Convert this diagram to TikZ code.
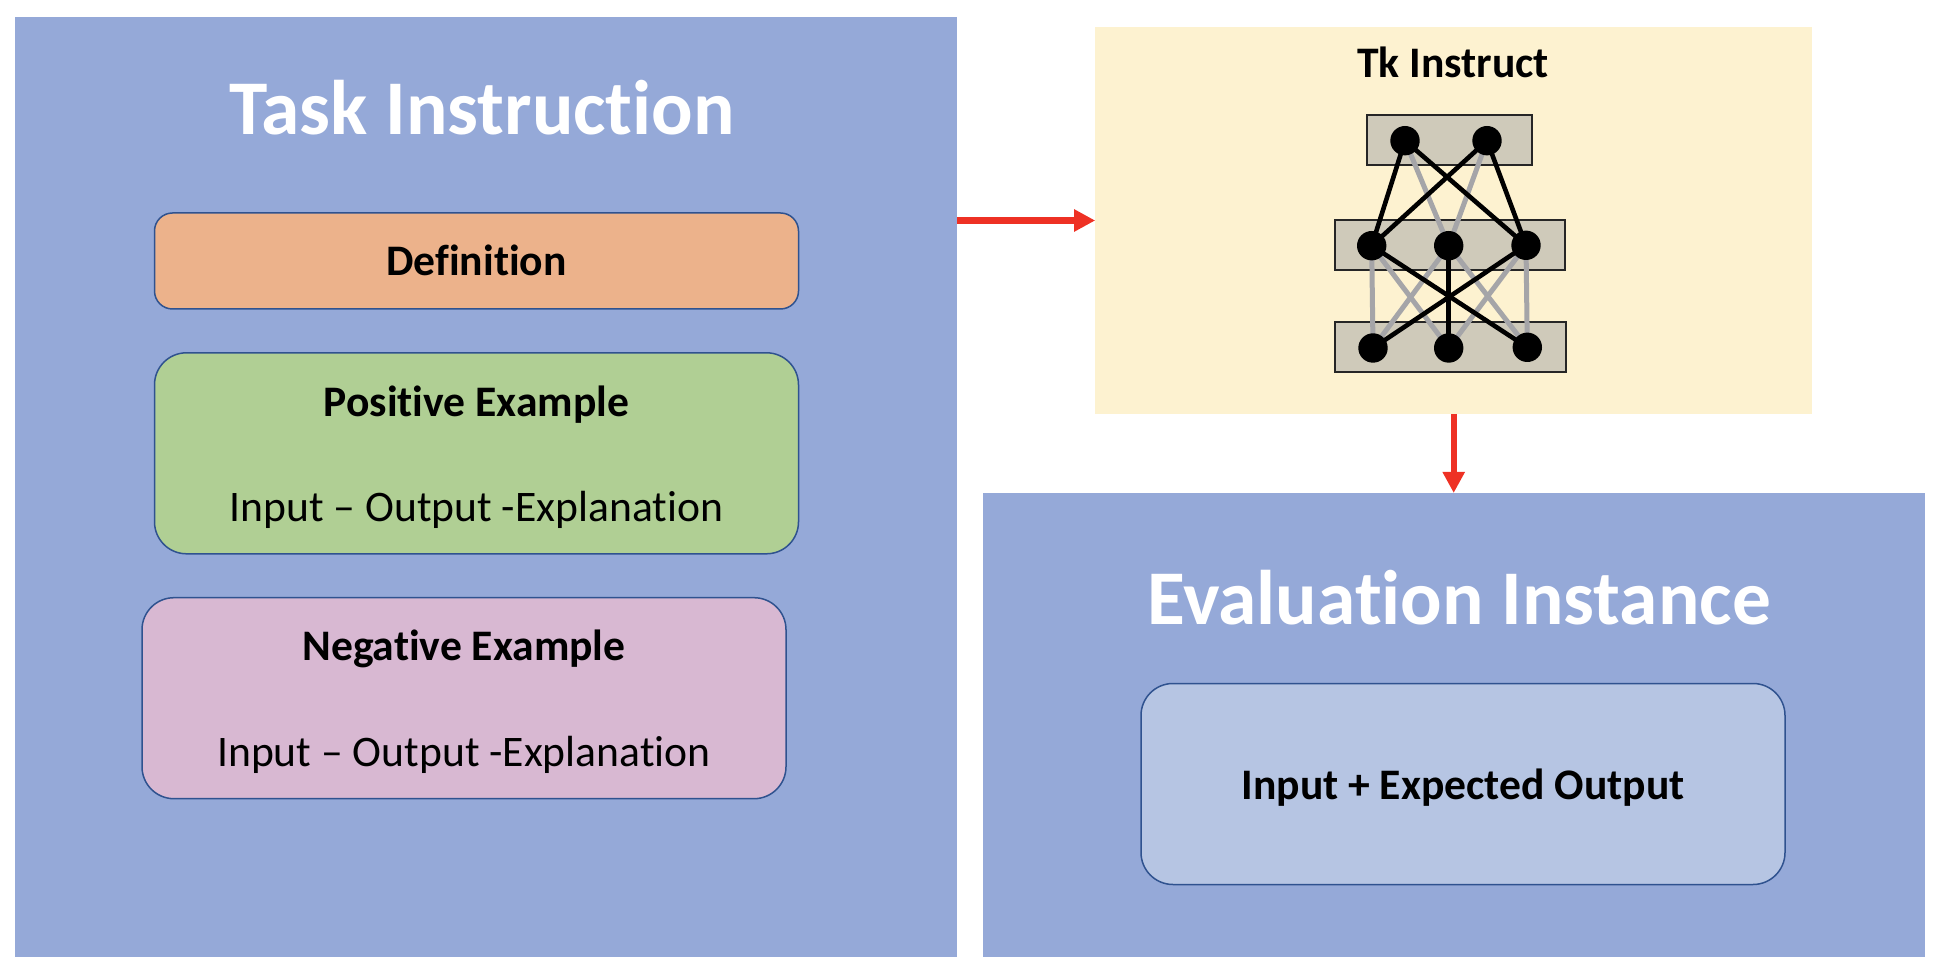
\documentclass[tikz,border=0pt]{standalone}
\usepackage{fontspec}
\setmainfont[Ligatures=CommonOff]{Carlito}
\usetikzlibrary{arrows.meta}
\definecolor{panelblue}{HTML}{95A9D8}
\definecolor{edgeblue}{HTML}{2F528F}
\definecolor{defc}{HTML}{ECB28B}
\definecolor{posc}{HTML}{B0CF94}
\definecolor{negc}{HTML}{D8B8D2}
\definecolor{evalc}{HTML}{B6C5E3}
\definecolor{tkc}{HTML}{FDF2D0}
\definecolor{layerc}{HTML}{CFCABA}
\definecolor{redc}{HTML}{EE3124}
\definecolor{greyc}{HTML}{A5A5A8}
\tikzset{
  x=0.5pt,y=-0.5pt,
  panel/.style={draw=none,inner sep=0pt,outer sep=0pt,rectangle},
  rbox/.style={draw=edgeblue,line width=0.75pt,inner sep=0pt,outer sep=0pt,rectangle,rounded corners=#1},
  layerbox/.style={draw=black!85,fill=layerc,line width=1pt,inner sep=0pt,outer sep=0pt,minimum height=25pt,rectangle},
  unit/.style={circle,fill=black,inner sep=0pt,outer sep=0pt,minimum size=14.7pt},
  title/.style={text=white,font=\fontsize{38.7}{46}\selectfont\bfseries,inner sep=0pt},
  headb/.style={text=black,font=\fontsize{21.8}{26}\selectfont\bfseries,inner sep=0pt},
  plain/.style={text=black,font=\fontsize{21.8}{26}\selectfont,inner sep=0pt},
  bg/.style={line width=2.5pt,draw=greyc},
  fg/.style={line width=2.3pt,draw=black},
  flow/.style={draw=redc,line width=3.2pt,-{Triangle[length=10.5pt,width=10.5pt]}},
}
\begin{document}
\begin{tikzpicture}
\useasboundingbox (0,0) rectangle (1938,972);
\node[panel,fill=panelblue,minimum width=471pt,minimum height=470pt] (task) at (486,486.7) {};
\node[panel,fill=tkc,minimum width=358.5pt,minimum height=193.5pt] (tk) at (1453.7,220.5) {};
\node[panel,fill=panelblue,minimum width=471pt,minimum height=231.75pt] (eval) at (1454,724.75) {};
\node[title] (tasktitle) at (482,108) {Task Instruction};
\node[rbox=9pt,fill=defc,minimum width=322pt,minimum height=48pt] (def) at (476.5,261) {};
\node[headb] (deft) at (476.5,260.4) {Definition};
\node[rbox=16pt,fill=posc,minimum width=322pt,minimum height=100.5pt] (pos) at (476.5,453.3) {};
\node[headb] (post) at (476.5,404.2) {Positive Example};
\node[plain] (posb) at (476.5,510.2) {Input – Output -Explanation};
\node[rbox=16pt,fill=negc,minimum width=322pt,minimum height=100.5pt] (neg) at (464,698.2) {};
\node[headb] (negt) at (464,649.2) {Negative Example};
\node[plain] (negb) at (464,755.2) {Input – Output -Explanation};
\node[headb] (tkt) at (1453,62) {Tk Instruct};
\node[title] (evt) at (1459,598) {Evaluation Instance};
\node[rbox=16pt,fill=evalc,minimum width=322pt,minimum height=100.5pt] (inner) at (1463,784) {};
\node[headb] (innert) at (1463,787.2) {Input + Expected Output};
% network
\node[layerbox,minimum width=82.6pt] (l1) at (1449.7,140) {};
\node[layerbox,minimum width=115.2pt] (l2) at (1450.2,245.3) {};
\node[layerbox,minimum width=115.2pt] (l3) at (1450.3,347.3) {};
\coordinate (t1) at (1405,140.7);
\coordinate (t2) at (1487,140.7);
\coordinate (m1) at (1371.7,245.7);
\coordinate (m2) at (1448.7,245.7);
\coordinate (m3) at (1526,245.3);
\coordinate (b1) at (1373,348);
\coordinate (b2) at (1448.7,348);
\coordinate (b3) at (1527.3,347.3);
\foreach \a/\b in {t1/m2,t2/m2,m1/b1,m1/b2,m2/b1,m2/b3,m3/b2,m3/b3} \draw[bg] (\a) -- (\b);
\foreach \a/\b in {t1/m1,t1/m3,t2/m1,t2/m3,m1/b3,m3/b1,m2/b2} \draw[fg] (\a) -- (\b);
\foreach \n in {t1,t2,m1,m2,m3,b1,b2,b3} \node[unit] (u\n) at (\n) {};
\draw[flow] (task.east |- tk.west) -- (tk.west);
\draw[flow] (tk.south) -- (tk.south |- eval.north);
\end{tikzpicture}
\end{document}
